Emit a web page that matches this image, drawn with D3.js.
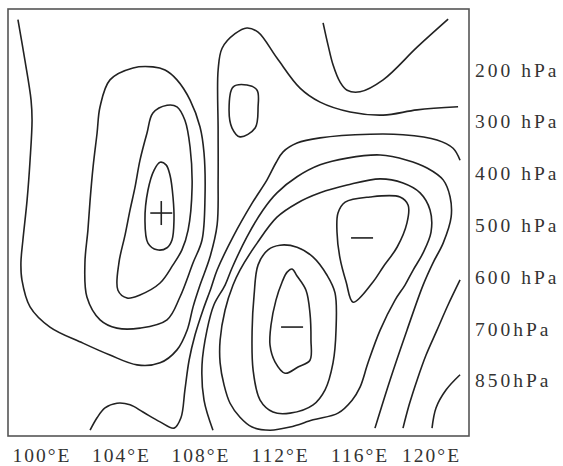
<!DOCTYPE html>
<html>
<head>
<meta charset="utf-8">
<script src="https://cdn.jsdelivr.net/npm/d3@7"></script>
<style>
  body { margin: 0; background: #fff; }
  svg { display: block; }
</style>
</head>
<body>
<div id="chart"></div>
<script>
const W = 563, H = 466;

// axis labels
const lonTicks = [100, 104, 108, 112, 116, 120];
const lonLabels = ["100°E", "104°E", "108°E", "112°E", "116°E", "120°E"];
const levelIdx = [0, 1, 2, 3, 4, 5, 6];
const levelLabels = ["200 hPa", "300 hPa", "400 hPa", "500 hPa", "600 hPa", "700hPa", "850hPa"];

// contour lines, [longitude °E, level index (0 = 200 hPa ... 6 = 850 hPa)]
const lineA = [[98.79,-0.97],[99.14,-0.19],[99.45,0.58],[99.50,0.97],[99.40,1.74],[99.25,2.51],[99.04,3.28],
  [98.94,3.72],[98.99,4.05],[99.40,4.57],[100.40,4.96],[102.06,5.27],[103.42,5.50],[104.78,5.69],[105.94,5.65],
  [106.79,5.40],[107.30,5.02],[107.60,4.57],[107.95,4.15],[108.45,3.61],[108.81,2.99],[108.86,2.12],[108.86,1.16],
  [108.86,0.00],[109.06,-0.42],[109.71,-0.70],[110.31,-0.81],[110.87,-0.73],[111.82,-0.23],[112.98,0.35],
  [113.99,0.62],[115.50,0.81],[117.16,0.87],[118.87,0.77],[120.93,0.71]];
const lineTopV = [[114.14,-0.91],[114.39,-0.48],[114.64,-0.10],[114.99,0.23],[115.35,0.39],[116.00,0.42],
  [117.16,0.19],[118.87,-0.44],[120.43,-0.98]];
const loopTopSmall = [[109.61,0.33],[110.31,0.29],[110.82,0.39],[110.87,0.71],[110.72,1.12],[109.96,1.29],
  [109.56,1.12],[109.41,0.77]];
const loopPlusOuter = [[102.92,0.71],[103.42,0.19],[104.58,-0.04],[105.58,-0.06],[106.19,0.00],[106.79,0.19],
  [107.45,0.58],[107.95,1.10],[108.15,1.60],[108.20,2.45],[108.05,3.28],[107.60,3.72],[106.94,4.38],[106.29,4.82],
  [104.93,4.98],[103.77,4.98],[102.92,4.82],[102.26,4.38],[102.16,3.72],[102.31,3.09],[102.42,2.51],[102.57,1.87],
  [102.77,1.22]];
const loopPlusMid = [[105.58,0.83],[106.29,0.68],[106.79,0.71],[107.19,0.97],[107.45,1.49],[107.55,2.26],
  [107.35,3.09],[107.04,3.47],[106.59,3.76],[105.94,4.11],[104.93,4.34],[104.28,4.40],[103.82,4.25],[103.87,3.72],
  [104.18,3.18],[104.43,2.70],[104.68,2.26],[104.93,1.74],[105.28,1.22]];
const loopPlusInner = [[105.94,1.78],[106.24,1.83],[106.44,2.03],[106.59,2.45],[106.64,2.89],[106.54,3.28],
  [106.29,3.43],[105.79,3.47],[105.33,3.34],[105.18,2.89],[105.33,2.32],[105.64,1.93]];
const line4 = [[121.03,1.74],[120.68,1.51],[119.87,1.35],[118.16,1.25],[116.50,1.24],[113.99,1.31],[112.83,1.41],
  [112.13,1.58],[111.77,1.79],[111.32,2.12],[110.57,2.57],[109.61,3.22],[108.81,3.86],[108.50,4.21],[108.10,4.63],
  [107.70,5.11],[107.40,5.60],[107.19,6.17],[106.99,6.71],[106.64,6.91],[105.94,6.79],[105.08,6.60],[104.43,6.46],
  [103.77,6.43],[103.17,6.52],[102.77,6.71],[102.42,6.95]];
const line5 = [[108.60,6.95],[108.15,6.37],[108.05,5.69],[108.30,5.02],[108.65,4.53],[109.21,4.15],[109.56,3.82],
  [110.31,3.22],[111.12,2.70],[111.82,2.37],[112.83,2.06],[113.99,1.83],[115.35,1.70],[117.01,1.64],[118.36,1.74],
  [119.37,1.89],[120.18,2.12],[120.53,2.45],[120.58,2.84],[120.18,3.34],[119.67,3.72],[119.17,4.15],[118.36,5.02],
  [117.51,5.98],[116.75,6.91]];
const loopMinusOuter = [[109.61,4.15],[109.21,4.63],[108.96,5.21],[108.96,5.65],[109.16,6.08],[109.46,6.43],
  [109.96,6.70],[110.57,6.89],[111.47,6.95],[112.48,6.89],[113.64,6.75],[114.89,6.62],[115.60,6.37],[116.00,6.12],
  [116.40,5.65],[117.01,5.02],[117.76,4.44],[118.26,4.15],[118.67,3.86],[119.17,3.53],[119.57,3.13],[119.52,2.70],
  [119.02,2.37],[118.16,2.18],[117.01,2.10],[115.35,2.22],[113.99,2.37],[112.83,2.57],[111.82,2.84],[110.82,3.34],
  [109.96,3.86]];
const loopMinusUpper = [[114.89,2.76],[115.25,2.55],[116.50,2.45],[118.01,2.45],[118.42,2.61],[118.36,2.95],
  [117.86,3.42],[117.16,3.80],[116.65,4.09],[115.65,4.48],[115.30,4.09],[114.99,3.63],[114.84,3.13]];
const loopMinusLowerMid = [[111.97,3.38],[112.83,3.42],[113.64,3.61],[114.34,3.96],[114.74,4.30],[114.79,5.02],
  [114.64,5.65],[114.24,6.17],[113.64,6.46],[112.48,6.62],[111.62,6.60],[110.97,6.37],[110.62,5.79],[110.57,5.02],
  [110.67,4.34],[110.87,3.76],[111.37,3.47]];
const loopMinusLowerInner = [[112.58,3.84],[112.82,3.97],[113.28,4.25],[113.48,4.69],[113.53,5.21],[113.48,5.60],
  [112.88,5.73],[112.23,5.85],[111.72,5.63],[111.47,5.31],[111.52,4.92],[111.77,4.44],[112.08,4.09],[112.33,3.90]];
const line7 = [[121.03,4.05],[120.43,4.53],[119.87,5.02],[119.32,5.50],[118.87,5.98],[118.47,6.46],[118.16,6.91]];
const line8 = [[121.03,5.88],[120.33,6.17],[119.82,6.52],[119.62,6.91]];

const openLines = [lineA, lineTopV, line4, line5, line7, line8];
const closedLoops = [loopTopSmall, loopPlusOuter, loopPlusMid, loopPlusInner, loopMinusOuter,
  loopMinusUpper, loopMinusLowerMid, loopMinusLowerInner];

// centre signs
const signs = [
  {sign: "+", lon: 106.0, lev: 2.76},
  {sign: "-", lon: 116.1, lev: 3.24},
  {sign: "-", lon: 112.58, lev: 4.96}
];

const frame = {l: 8, r: 469, t: 9, b: 436};
const x = d3.scaleLinear().domain([98.29, 121.48]).range([frame.l, frame.r]);
const y = d3.scaleLinear().domain([-1.177, 7.062]).range([frame.t, frame.b]);

const svg = d3.select("#chart").append("svg").attr("width", W).attr("height", H);

svg.append("rect")
  .attr("x", frame.l).attr("y", frame.t)
  .attr("width", frame.r - frame.l).attr("height", frame.b - frame.t)
  .attr("fill", "none").attr("stroke", "#555").attr("stroke-width", 1.6);

const openPath = d3.line().x(d => x(d[0])).y(d => y(d[1])).curve(d3.curveCatmullRom.alpha(0.5));
const closedPath = d3.line().x(d => x(d[0])).y(d => y(d[1])).curve(d3.curveCatmullRomClosed.alpha(0.5));

const g = svg.append("g").attr("fill", "none").attr("stroke", "#222").attr("stroke-width", 1.6);

g.selectAll("path.open")
  .data(openLines)
  .join("path")
  .attr("class", "open")
  .attr("d", openPath);

g.selectAll("path.closed")
  .data(closedLoops)
  .join("path")
  .attr("class", "closed")
  .attr("d", closedPath);

const marks = svg.append("g").attr("stroke", "#222").attr("stroke-width", 1.6);
signs.forEach(s => {
  const cx = x(s.lon), cy = y(s.lev);
  marks.append("line").attr("x1", cx - 11).attr("x2", cx + 11).attr("y1", cy).attr("y2", cy);
  if (s.sign === "+") {
    marks.append("line").attr("x1", cx).attr("x2", cx).attr("y1", cy - 12).attr("y2", cy + 12);
  }
});

const font = "'Liberation Serif', 'DejaVu Serif', serif";

svg.append("g")
  .selectAll("text")
  .data(lonTicks)
  .join("text")
  .attr("x", d => x(d))
  .attr("dx", (d, i) => i === lonTicks.length - 1 ? -8 : 0)
  .attr("y", 462)
  .attr("text-anchor", "middle")
  .attr("font-family", font)
  .attr("font-size", 19.5)
  .attr("letter-spacing", 2)
  .attr("fill", "#333")
  .text((d, i) => lonLabels[i]);

svg.append("g")
  .selectAll("text")
  .data(levelIdx)
  .join("text")
  .attr("x", 475)
  .attr("y", d => y(d))
  .attr("dominant-baseline", "central")
  .attr("font-family", font)
  .attr("font-size", 19.5)
  .attr("letter-spacing", 3)
  .attr("fill", "#333")
  .text((d, i) => levelLabels[i]);
</script>
</body>
</html>
